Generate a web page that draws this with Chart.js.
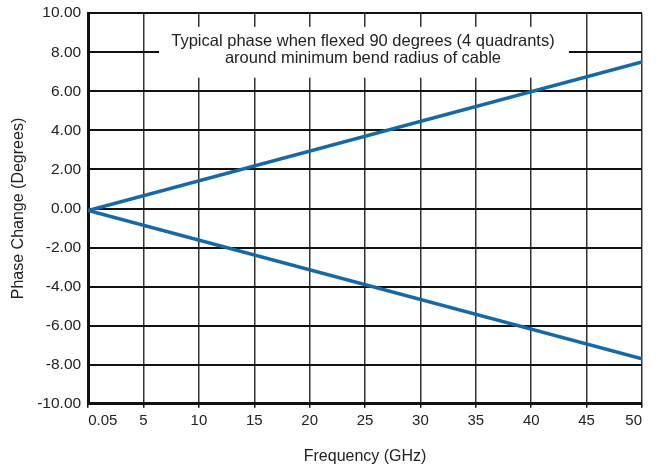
<!doctype html>
<html lang="en">
<head>
<meta charset="utf-8">
<title>Phase change vs frequency</title>
<script src="https://cdn.jsdelivr.net/npm/chart.js@4/dist/chart.umd.min.js"></script>
<style>
  html, body { margin: 0; padding: 0; background: #fff; }
  #wrap { width: 657px; height: 464px; }
</style>
</head>
<body>
<div id="wrap"><canvas id="myChart" width="657" height="464"></canvas></div>
<script>
// data
var freqs = [0, 50];
var upperPhase = [-0.1, 7.5];
var lowerPhase = [-0.1, -7.7];
var xTicks = [0, 5, 10, 15, 20, 25, 30, 35, 40, 45, 50];
var xTickLabels = ['0.05', '5', '10', '15', '20', '25', '30', '35', '40', '45', '50'];
var yTicks = [-10, -8, -6, -4, -2, 0, 2, 4, 6, 8, 10];
var noteLines = ['Typical phase when flexed 90 degrees (4 quadrants)', 'around minimum bend radius of cable'];

var FONT = 'Liberation Sans, Arial, sans-serif';
var blue = '#1469a8';

function pts(ys) {
  return freqs.map(function (f, i) { return { x: f, y: ys[i] }; });
}

// white note box that hides the grid behind the text
var notePlugin = {
  id: 'note',
  beforeDatasetsDraw: function (chart) {
    var c = chart.ctx, xs = chart.scales.x, ys = chart.scales.y;
    var l = xs.getPixelForValue(6.4), r = xs.getPixelForValue(43.4);
    var t = ys.getPixelForValue(9.3), b = ys.getPixelForValue(6.7);
    c.save();
    c.fillStyle = '#fff';
    c.fillRect(l, t, r - l, b - t);
    c.fillStyle = '#222';
    c.font = '16.5px ' + FONT;
    c.textAlign = 'center';
    c.textBaseline = 'middle';
    var cx = (l + r) / 2 - 1;
    c.fillText(noteLines[0], cx, ys.getPixelForValue(8.55));
    c.fillText(noteLines[1], cx, ys.getPixelForValue(7.7));
    c.restore();
  }
};

var ctx = document.getElementById('myChart');
var chart = new Chart(ctx, {
  type: 'scatter',
  data: {
    datasets: [
      { data: pts(upperPhase), showLine: true, borderColor: blue, borderWidth: 3.5, pointRadius: 0, fill: false },
      { data: pts(lowerPhase), showLine: true, borderColor: blue, borderWidth: 3.5, pointRadius: 0, fill: false }
    ]
  },
  options: {
    responsive: false,
    animation: false,
    layout: { padding: { top: 12, right: 15, left: 2, bottom: -2 } },
    plugins: { legend: { display: false }, tooltip: { enabled: false } },
    scales: {
      x: {
        type: 'linear', min: 0, max: 50,
        afterBuildTicks: function (axis) { axis.ticks = xTicks.map(function (v) { return { value: v }; }); },
        ticks: {
          align: 'inner',
          color: '#222',
          font: { family: FONT, size: 15 },
          padding: 4,
          callback: function (v) { var i = xTicks.indexOf(v); return i >= 0 ? xTickLabels[i] : ''; }
        },
        grid: { color: '#333', lineWidth: 1.5, tickLength: 4, tickColor: '#111' },
        border: { color: '#111', width: 3 },
        title: { display: true, text: 'Frequency (GHz)', color: '#222', font: { family: FONT, size: 16 }, padding: { top: 13, bottom: 0 } }
      },
      y: {
        type: 'linear', min: -10, max: 10,
        afterBuildTicks: function (axis) { axis.ticks = yTicks.map(function (v) { return { value: v }; }); },
        ticks: {
          color: '#222',
          font: { family: FONT, size: 15.5, lineHeight: 0.8 },
          padding: 7,
          callback: function (v) { return v.toFixed(2); }
        },
        grid: { color: '#111', lineWidth: 2, drawTicks: false },
        border: { color: '#111', width: 3 },
        title: { display: true, text: 'Phase Change (Degrees)', color: '#222', font: { family: FONT, size: 16 }, padding: { top: 7, bottom: 2 } }
      }
    }
  },
  plugins: [notePlugin]
});
</script>
</body>
</html>
